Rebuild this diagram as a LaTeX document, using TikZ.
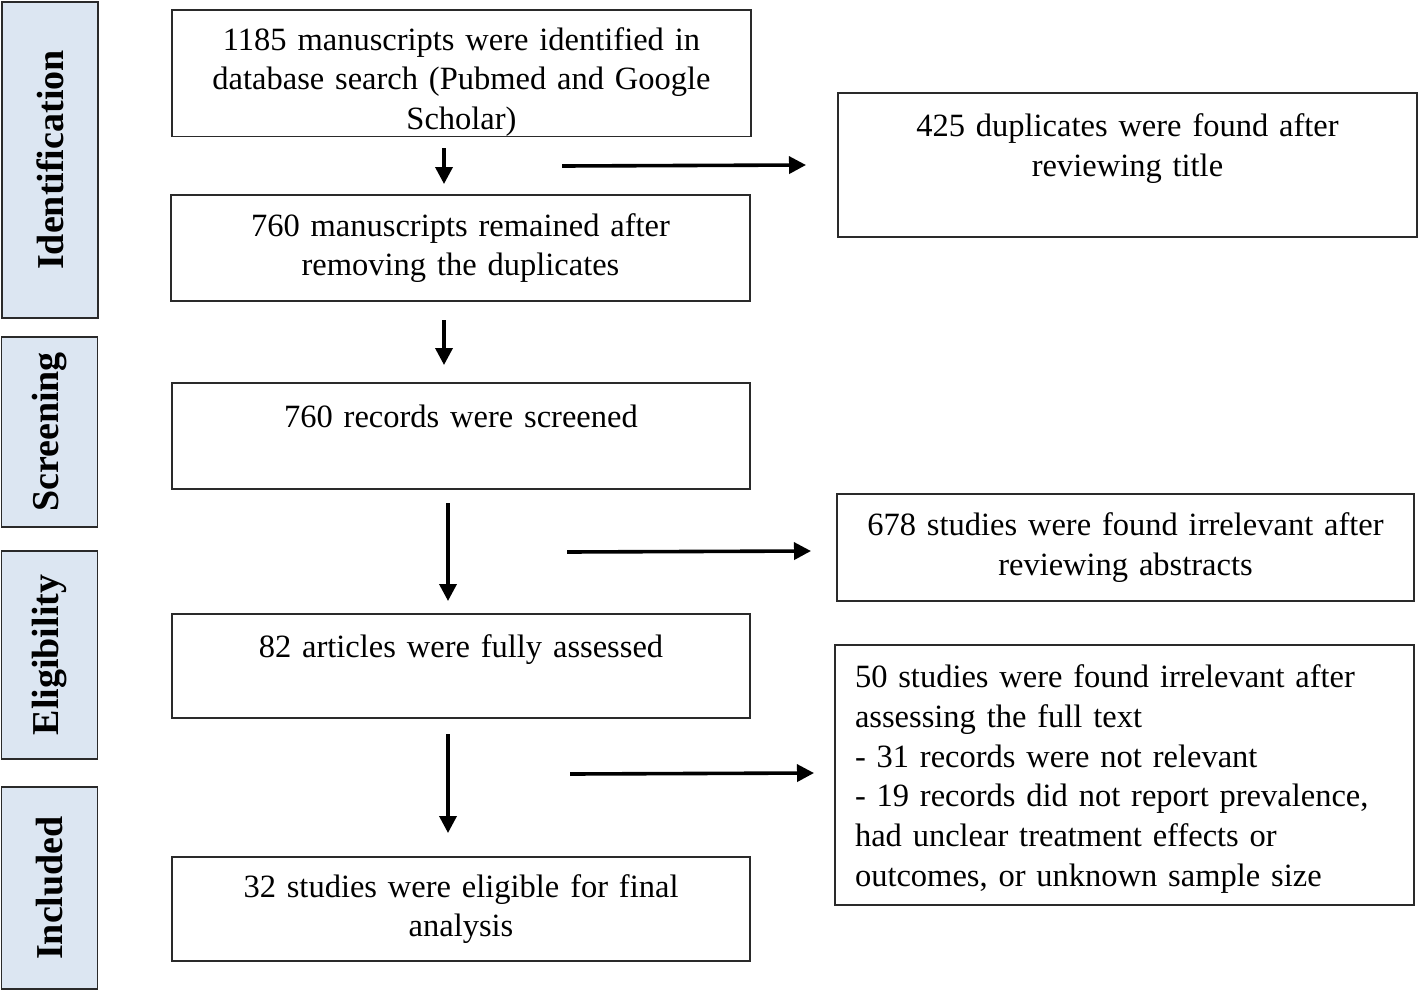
\documentclass[tikz,border=0pt]{standalone}
\usepackage{fontspec}
\setmainfont{Liberation Serif}
\usetikzlibrary{arrows.meta}
\definecolor{sidefill}{HTML}{DCE6F2}
\definecolor{edge}{HTML}{2A2A2A}
\tikzset{
  box/.style={draw=edge, line width=1.4pt, fill=white, align=center, text width=560pt,
    font=\fontsize{32.5pt}{39.7pt}\selectfont, inner sep=0pt},
  sidebox/.style={draw=edge, line width=1.4pt, fill=sidefill, minimum width=96pt, inner sep=0pt},
  sidelabel/.style={rotate=90, font=\fontsize{38pt}{40pt}\selectfont\bfseries},
  flow/.style={line width=3.6pt, -{Triangle[length=17pt,width=17pt]}}
}
\begin{document}
\begin{tikzpicture}[x=1pt,y=-1pt]
\useasboundingbox (0,0) rectangle (1418,991);
% side stage boxes
\node[sidebox, minimum height=316pt] (sid) at (50,160) {};
\node[sidelabel] (lid) at (50,160) {Identification};
\node[sidebox, minimum height=190pt] (sscr) at (49.5,432) {};
\node[sidelabel] (lscr) at (49.5,432) {Screening};
\node[sidebox, minimum height=208pt] (selig) at (49.5,655) {};
\node[sidelabel] (lelig) at (49.5,655) {Eligibility};
\node[sidebox, minimum height=202pt] (sinc) at (49.5,888) {};
\node[sidelabel] (linc) at (49.5,888) {Included};
% main boxes
\node[box, minimum width=579pt, minimum height=126pt] (b1) at (461.5,73.3) {\rule{0pt}{40pt}1185 manuscripts were identified in\\database search (Pubmed and Google\\Scholar)};
\node[box, minimum width=579pt, minimum height=106pt] (b2) at (460.5,248) {760 manuscripts remained after\\removing the duplicates};
\node[box, minimum width=578pt, minimum height=106pt] (b3) at (461,436) {760 records were screened\\\mbox{}};
\node[box, minimum width=578pt, minimum height=104pt] (b4) at (461,666) {82 articles were fully assessed\\\mbox{}};
\node[box, minimum width=578pt, minimum height=104pt] (b5) at (461,909) {32 studies were eligible for final\\analysis};
% right boxes
\node[box, minimum width=579pt, minimum height=144pt] (r1) at (1127.5,165) {425 duplicates were found after\\reviewing title\\\mbox{}};
\node[box, minimum width=577pt, minimum height=107pt] (r2) at (1125.5,547.5) {678 studies were found irrelevant after\\reviewing abstracts};
\node[box, align=left, text width=539pt, minimum width=579pt, minimum height=260pt] (r3) at (1124.5,775) {\rule{0pt}{31pt}50 studies were found irrelevant after\\assessing the full text\\- 31 records were not relevant\\- 19 records did not report prevalence,\\had unclear treatment effects or\\outcomes, or unknown sample size};
% arrow end points
\coordinate (d1s) at (444,148); \coordinate (d1e) at (444,184);
\coordinate (h1s) at (562,166); \coordinate (h1e) at (806,165);
\coordinate (d2s) at (444,320); \coordinate (d2e) at (444,365);
\coordinate (d3s) at (448,503); \coordinate (d3e) at (448,601);
\coordinate (h2s) at (567,552); \coordinate (h2e) at (811,551);
\coordinate (d4s) at (448,734); \coordinate (d4e) at (448,833);
\coordinate (h3s) at (570,774); \coordinate (h3e) at (814,773);
\draw[flow] (d1s) -- (d1e);
\draw[flow] (h1s) -- (h1e);
\draw[flow] (d2s) -- (d2e);
\draw[flow] (d3s) -- (d3e);
\draw[flow] (h2s) -- (h2e);
\draw[flow] (d4s) -- (d4e);
\draw[flow] (h3s) -- (h3e);
\end{tikzpicture}
\end{document}
